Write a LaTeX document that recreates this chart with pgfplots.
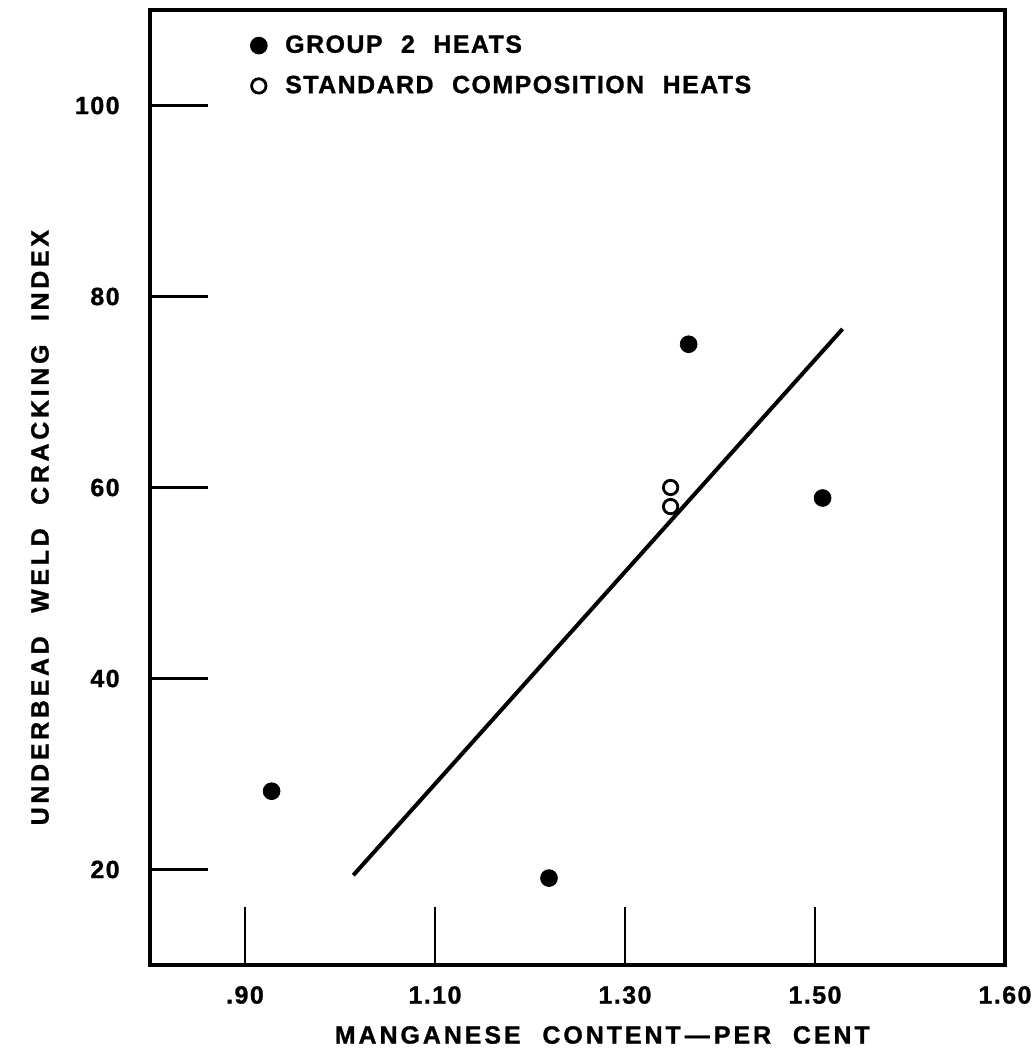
\documentclass[border=0pt]{standalone}
\usepackage{fontspec}
\setmainfont{Liberation Sans}[LetterSpace=6, WordSpace=2.2, BoldFeatures={FakeBold=1.2}]
\usepackage{pgfplots}
\pgfplotsset{compat=1.18}

\begin{document}
\begin{tikzpicture}
\begin{axis}[
    name=main,
    scale only axis,
    width=427.5bp, height=477.5bp,
    xmin=0.8, xmax=1.7,
    ymin=10, ymax=110,
    xtick={0.9,1.1,1.3,1.5,1.7},
    xticklabels={.90,1.10,1.30,1.50,1.60},
    ytick={20,40,60,80,100},
    yticklabels={20,40,60,80,100},
    xtick pos=bottom, ytick pos=left,
    tick align=inside,
    major tick length=29bp,
    tick style={line width=1.4bp, black},
    axis line style={line width=2bp},
    /pgf/number format/assume math mode=true,
    ticklabel style={font=\bfseries\fontsize{12.5}{14}\selectfont},
    xticklabel style={anchor=center, yshift=-15bp},
    yticklabel style={anchor=east, inner sep=0pt, xshift=-15bp},
    xlabel={MANGANESE CONTENT\,---\,PER CENT},
    ylabel={UNDERBEAD WELD CRACKING INDEX},
    xlabel style={at={(axis description cs:0.529,-0.0733)}, anchor=center,
        font=\bfseries\fontsize{12.5}{14}\selectfont\addfontfeatures{LetterSpace=12}},
    ylabel style={at={(axis description cs:-0.1287,0.458)}, anchor=center,
        font=\bfseries\fontsize{12.5}{14}\selectfont\addfontfeatures{LetterSpace=15}},
    legend style={at={(axis description cs:0.117,0.978)}, anchor=north west,
        draw=none, fill=none, font=\bfseries\fontsize{12.5}{14}\selectfont,
        row sep=6bp, inner sep=0pt,
        /tikz/every odd column/.append style={column sep=7bp}},
    legend cell align=left,
    legend image code/.code={\draw[#1] plot coordinates {(0bp,0bp)};},
    clip=false,
]
% heats of group 2
\addplot[only marks, mark=*, mark size=4.2bp, black] coordinates {
    (0.928, 28.2) (1.220, 19.1) (1.367, 75.0) (1.508, 58.9)
}; \addlegendentry{GROUP 2 HEATS}

% standard composition
\addplot[only marks, mark=o, mark size=3.6bp, black, line width=1.4bp] coordinates {
    (1.348, 60.0) (1.348, 58.0)
}; \addlegendentry{STANDARD COMPOSITION HEATS}

% fitted line
\addplot[black, line width=2bp, forget plot] coordinates {
    (1.014, 19.4) (1.529, 76.6)
};
\end{axis}
\pgfresetboundingbox
\useasboundingbox ([xshift=-75bp,yshift=-48.5bp]main.south west)
    rectangle ([xshift=15.5bp,yshift=5bp]main.north east);
\end{tikzpicture}
\end{document}
